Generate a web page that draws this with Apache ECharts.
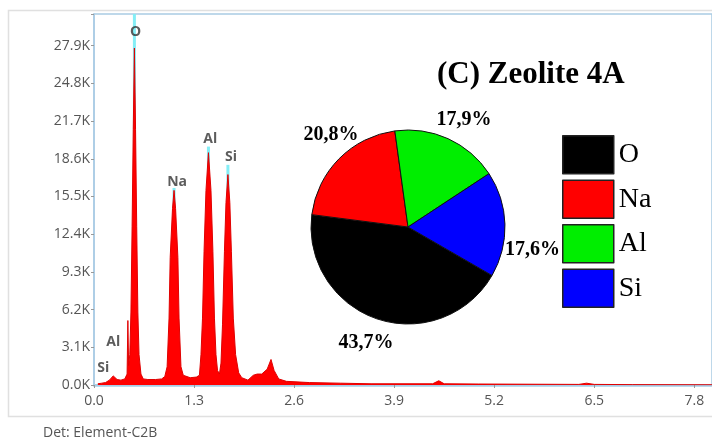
<!DOCTYPE html>
<html>
<head>
<meta charset="utf-8">
<script src="https://cdn.jsdelivr.net/npm/echarts@6/dist/echarts.min.js"></script>
<style>
  html, body { margin: 0; padding: 0; background: #fff; }
  #chart { width: 712px; height: 447px; }
</style>
</head>
<body>
<div id="chart"></div>
<script>
// EDS spectrum, energy in keV, counts in K
const spectrum = [
  [0.05, 0.1], [0.1, 0.15], [0.15, 0.2], [0.2, 0.4], [0.25, 0.75], [0.3, 0.45],
  [0.35, 0.4], [0.4, 0.5], [0.43, 0.9], [0.44, 5.3], [0.45, 1.6], [0.465, 2.5],
  [0.48, 6.0], [0.495, 13.0], [0.51, 21.0], [0.525, 27.7], [0.54, 21.0], [0.555, 13.0],
  [0.57, 6.0], [0.585, 2.5], [0.61, 0.9], [0.64, 0.5], [0.7, 0.45], [0.8, 0.45],
  [0.88, 0.5], [0.92, 0.7], [0.95, 1.5], [0.975, 5.5], [0.99, 10.5], [1.02, 14.5],
  [1.04, 16.0], [1.06, 14.5], [1.09, 10.5], [1.105, 5.5], [1.13, 1.5], [1.16, 0.8],
  [1.25, 0.6], [1.33, 0.65], [1.37, 0.8], [1.39, 2.5], [1.41, 5.5], [1.43, 11.0],
  [1.455, 16.0], [1.487, 19.1], [1.52, 16.0], [1.545, 11.0], [1.565, 5.5], [1.585, 2.5],
  [1.605, 1.2], [1.63, 0.9], [1.65, 1.8], [1.67, 5.0], [1.695, 11.0], [1.715, 15.0],
  [1.74, 17.3], [1.765, 15.0], [1.785, 11.0], [1.81, 5.5], [1.84, 2.5], [1.88, 1.0],
  [1.92, 0.6], [2.0, 0.4], [2.07, 0.8], [2.12, 0.9], [2.18, 0.9], [2.25, 1.3],
  [2.3, 2.1], [2.34, 1.2], [2.4, 0.5], [2.5, 0.3], [2.8, 0.2], [3.2, 0.15],
  [3.6, 0.1], [4.4, 0.1], [4.48, 0.35], [4.55, 0.1], [5.0, 0.08], [6.3, 0.05],
  [6.4, 0.15], [6.5, 0.05], [7.0, 0.03], [8.03, 0.02]
];

// element marker lines: [energy, top of line]
const markers = [[0.525, 30.5], [1.04, 16.2], [1.487, 19.6], [1.74, 18.1]];

// peak labels: [name, energy, height]
const peakLabels = [
  ['O', 0.54, 29.0], ['Na', 1.08, 16.7], ['Al', 1.51, 20.2], ['Si', 1.78, 18.75],
  ['Al', 0.25, 3.5], ['Si', 0.12, 1.4]
];

const yTicks = ['0.0K', '3.1K', '6.2K', '9.3K', '12.4K', '15.5K', '18.6K', '21.7K', '24.8K', '27.9K'];
const xTicks = ['0.0', '1.3', '2.6', '3.9', '5.2', '6.5', '7.8'];

// composition (pie)
const elements = ['O', 'Na', 'Al', 'Si'];
const percents = [43.7, 20.8, 17.9, 17.6];
const pieColors = ['#000000', '#ff0000', '#00ee00', '#0000ff'];
// label nudges for each slice
const labelShift = [[24, 16], [30, -18], [-20, -12], [-13, 26]];

const chart = echarts.init(document.getElementById('chart'));

const sans = '"Open Sans", "Noto Sans", sans-serif';
const serif = '"Liberation Serif", "Times New Roman", serif';

chart.setOption({
  animation: false,
  title: {
    text: '(C) Zeolite 4A',
    left: 437,
    top: 59,
    padding: 0,
    textStyle: { fontFamily: serif, fontWeight: 'bold', fontSize: 31, color: '#000' }
  },
  legend: {
    orient: 'vertical',
    left: 562,
    top: 135,
    padding: 0,
    itemWidth: 51,
    itemHeight: 38,
    itemGap: 5,
    icon: 'rect',
    data: elements,
    itemStyle: { borderColor: '#222', borderWidth: 1.5 },
    textStyle: { fontFamily: serif, fontSize: 28, color: '#000' }
  },
  graphic: [
    {
      type: 'rect',
      shape: { x: 8.5, y: 10.5, width: 720, height: 406 },
      style: { fill: 'none', stroke: '#e0e0e0', lineWidth: 1.5 },
      z: 0
    },
    {
      type: 'text',
      left: 43,
      top: 426,
      style: { text: 'Det: Element-C2B', fontFamily: sans, fontSize: 14, fill: '#555' }
    }
  ],
  grid: {
    left: 94, top: 14, right: 0, bottom: 62,
    show: true, borderColor: '#a9cbe4', borderWidth: 1.5
  },
  xAxis: {
    type: 'value',
    min: 0,
    max: 8.03,
    interval: 1.3,
    axisLine: { lineStyle: { color: '#a6cde6', width: 2.5 } },
    axisTick: { show: true, length: 3, lineStyle: { color: '#999' } },
    splitLine: { show: false },
    axisLabel: {
      margin: 9,
      fontFamily: sans, fontSize: 14, color: '#555',
      formatter: v => xTicks[Math.round(v / 1.3)] || ''
    }
  },
  yAxis: {
    type: 'value',
    min: 0,
    max: 30.5,
    interval: 3.1,
    axisLine: { show: true, lineStyle: { color: '#a9cbe4', width: 1.5 } },
    axisTick: { show: true, length: 3, lineStyle: { color: '#999' } },
    splitLine: { show: false },
    axisLabel: {
      margin: 4,
      fontFamily: sans, fontSize: 14, color: '#555',
      formatter: v => yTicks[Math.round(v / 3.1)] || ''
    }
  },
  series: [
    {
      // element marker lines, drawn behind the spectrum
      type: 'bar',
      z: 1,
      barWidth: 3,
      silent: true,
      itemStyle: { color: '#84eef6' },
      data: markers
    },
    {
      type: 'line',
      data: spectrum,
      z: 2,
      showSymbol: false,
      smooth: false,
      lineStyle: { color: '#e00000', width: 1 },
      areaStyle: { color: '#ff0000', opacity: 1 }
    },
    {
      type: 'scatter',
      z: 3,
      symbolSize: 0,
      data: peakLabels.map(p => ({ name: p[0], value: [p[1], p[2]] })),
      label: {
        show: true,
        position: 'inside',
        formatter: p => p.name,
        fontFamily: sans, fontWeight: 'bold', fontSize: 14, color: '#333'
      }
    },
    {
      type: 'pie',
      z: 5,
      center: [408, 227],
      radius: 97,
      startAngle: -30,
      clockwise: true,
      data: elements.map((e, i) => ({ name: e, value: percents[i], itemStyle: { color: pieColors[i] } })),
      itemStyle: { borderColor: '#111', borderWidth: 1 },
      label: {
        show: true,
        position: 'outside',
        formatter: p => p.value.toFixed(1).replace('.', ',') + '%',
        fontFamily: serif, fontWeight: 'bold', fontSize: 20, color: '#000'
      },
      labelLine: { show: false, length: 8, length2: 0 },
      labelLayout: p => ({ dx: labelShift[p.dataIndex][0], dy: labelShift[p.dataIndex][1] }),
      emphasis: { disabled: true }
    }
  ]
});
</script>
</body>
</html>
